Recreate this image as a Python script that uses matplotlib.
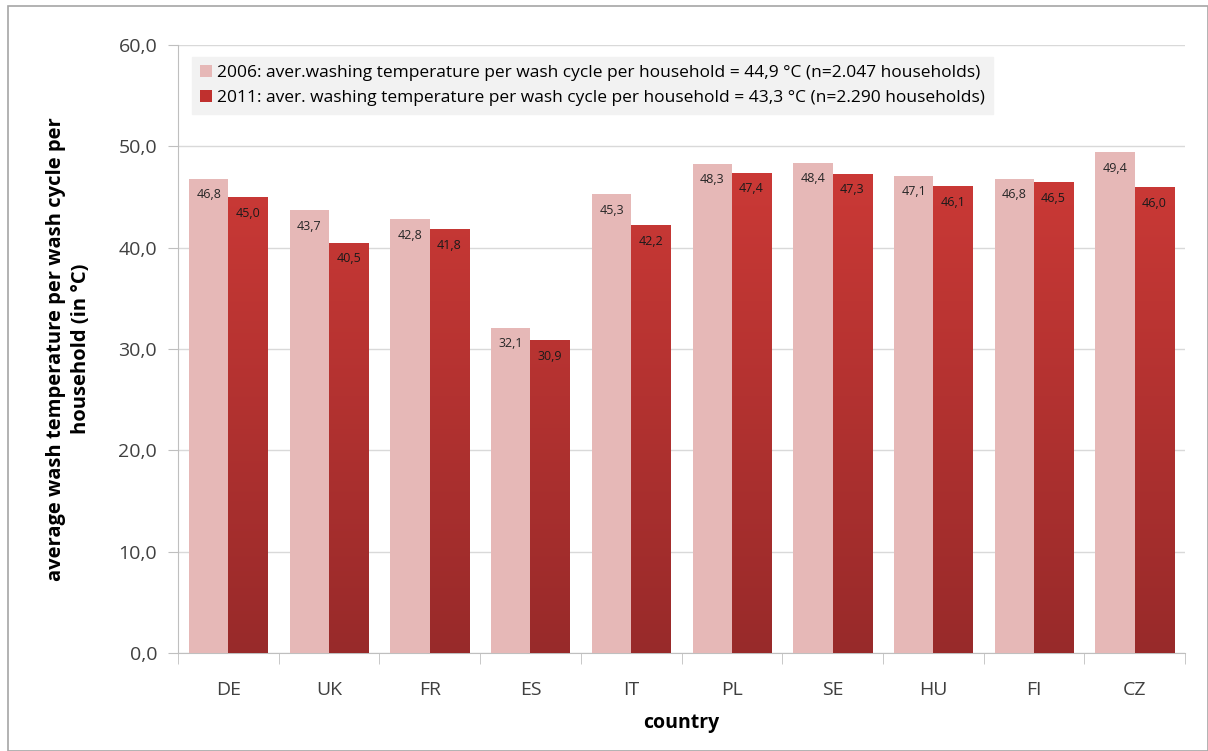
import matplotlib
matplotlib.use("Agg")
import matplotlib.pyplot as plt
import numpy as np
from matplotlib.patches import Rectangle, Patch
from matplotlib.colors import LinearSegmentedColormap

countries = ["DE", "UK", "FR", "ES", "IT", "PL", "SE", "HU", "FI", "CZ"]
vals_2006 = [46.8, 43.7, 42.8, 32.1, 45.3, 48.3, 48.4, 47.1, 46.8, 49.4]
vals_2011 = [45.0, 40.5, 41.8, 30.9, 42.2, 47.4, 47.3, 46.1, 46.5, 46.0]
label_2006 = "2006: aver.washing temperature per wash cycle per household = 44,9 °C (n=2.047 households)"
label_2011 = "2011: aver. washing temperature per wash cycle per household = 43,3 °C (n=2.290 households)"
yticks = [0, 10, 20, 30, 40, 50, 60]

plt.rcParams['font.family'] = ['Open Sans', 'DejaVu Sans']

fig = plt.figure(figsize=(12.08, 7.51), dpi=100)
ax = fig.add_axes([178/1208, 1-653/751, (1185-178)/1208, (653-45)/751])

# outer frame
fig.patches.append(Rectangle((8/1208, 0), 1200/1208, 1-6/751, transform=fig.transFigure,
                             fill=False, edgecolor="#a6a6a6", linewidth=1.2))

x = np.arange(len(countries))
w = 0.39
pink = "#e6b8b7"
cmap = LinearSegmentedColormap.from_list("g", ["#982a2a", "#d83d39"])

bars1 = ax.bar(x - w/2, vals_2006, width=w, color=pink, zorder=3, label=label_2006)
bars2 = ax.bar(x + w/2, vals_2011, width=w, color="#c0302e", zorder=3, label=label_2011)

grad = np.linspace(0, 1, 256).reshape(-1, 1)
for b in bars2:
    b.set_facecolor("none")
    bx = b.get_x()
    bw = b.get_width()
    im = ax.imshow(grad, cmap=cmap, origin="lower", aspect="auto",
                   extent=[bx, bx + bw, 0, 60], zorder=3, vmin=0, vmax=1)
    im.set_clip_path(b)

for b, v in zip(bars1, vals_2006):
    ax.text(b.get_x() + b.get_width()/2, v - 1.6, f"{v:.1f}".replace(".", ","),
            ha="center", va="center", fontsize=9, color="#262626", zorder=5)
for b, v in zip(bars2, vals_2011):
    ax.text(b.get_x() + b.get_width()/2, v - 1.6, f"{v:.1f}".replace(".", ","),
            ha="center", va="center", fontsize=9, color="#1a1a1a", zorder=5)

ax.set_xlim(-0.5, len(countries) - 0.5)
ax.set_ylim(0, 60)
ax.set_yticks(yticks)
ax.set_yticklabels([f"{t:.1f}".replace(".", ",") for t in yticks], fontsize=14, color="#404040")
ax.set_xticks(x)
ax.set_xticklabels(countries, fontsize=14, color="#404040")
ax.set_xticks(np.arange(-0.5, len(countries)), minor=True)
ax.tick_params(axis="x", which="major", length=0, pad=20)
ax.tick_params(axis="x", which="minor", length=8, color="#bfbfbf", direction="out")
ax.tick_params(axis="y", length=7, color="#bfbfbf", pad=8)

ax.grid(axis="y", color="#d9d9d9", linewidth=1, zorder=0)
ax.set_axisbelow(True)
for s in ["top", "right"]:
    ax.spines[s].set_visible(False)
for s in ["left", "bottom"]:
    ax.spines[s].set_color("#bfbfbf")

ax.set_xlabel("country", fontsize=14, fontweight="bold", labelpad=10)
ax.set_ylabel("average wash temperature per wash cycle per\nhousehold (in °C)", fontsize=14.5,
              fontweight="bold", labelpad=20, linespacing=1.3)

handles = [Patch(facecolor=pink), Patch(facecolor="#c0302e")]
leg = ax.legend(handles, [label_2006, label_2011], loc="upper left", bbox_to_anchor=(0.005, 0.995),
                fontsize=12.5, frameon=True, fancybox=False, facecolor="#f2f2f2", edgecolor="#f2f2f2",
                framealpha=1, handlelength=0.7, handleheight=0.7, handletextpad=0.3,
                labelspacing=0.55, borderpad=0.45)
leg.set_zorder(6)

fig.savefig("out.png", dpi=100)
